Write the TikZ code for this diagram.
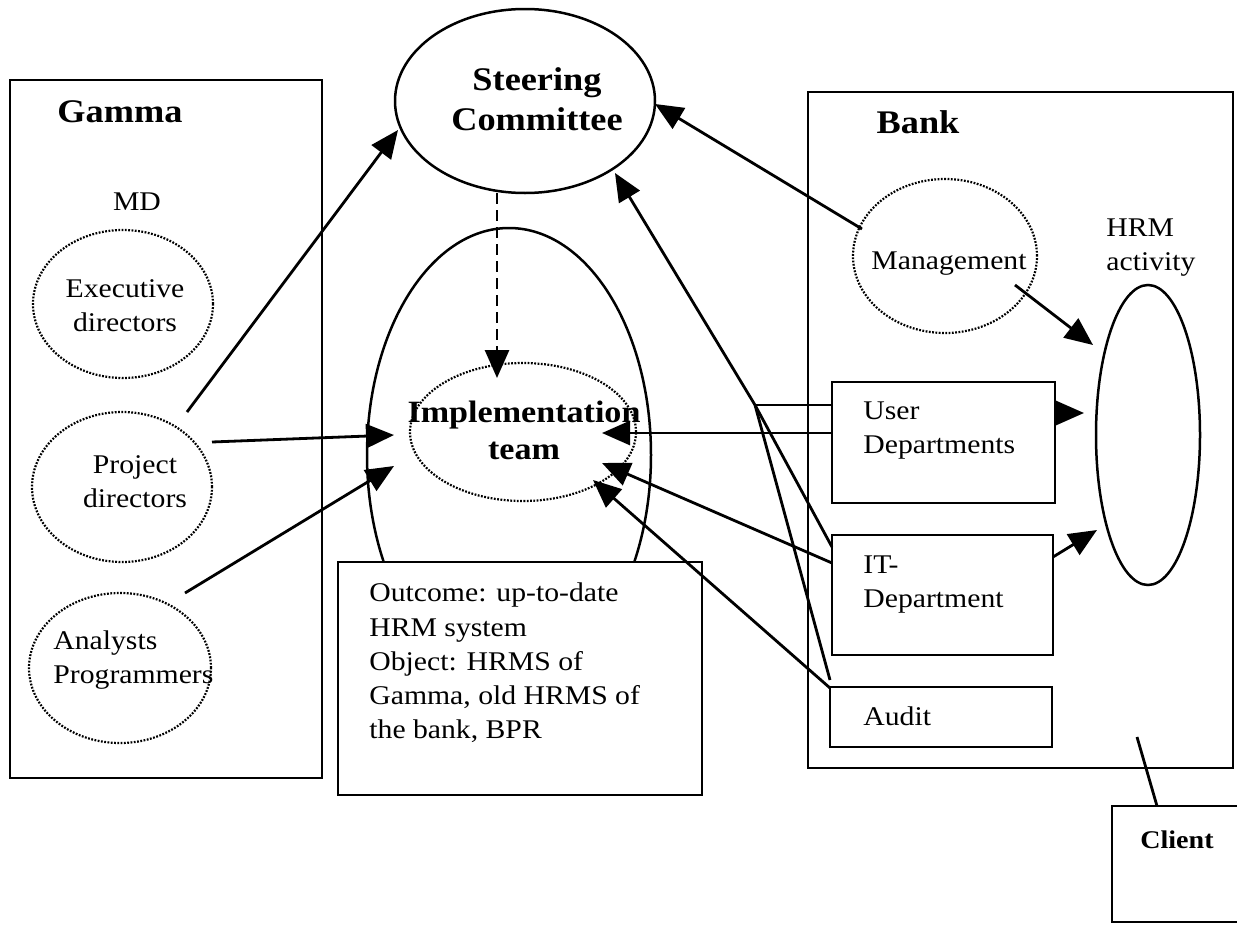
\documentclass[tikz,border=0pt]{standalone}
\usepackage{fontspec}
\setmainfont{Liberation Serif}[FakeStretch=1.1]
\usetikzlibrary{arrows.meta,shapes.geometric}

\begin{document}
\begin{tikzpicture}[x=1pt,y=-1pt,
  line width=2.8pt,
  every node/.style={inner sep=0pt,font=\fontsize{27}{34}\selectfont},
  frame/.style={draw,line width=2.8pt,fill=white},
  solidell/.style={draw,ellipse,inner sep=0pt,line width=2.5pt},
  dotell/.style={draw,ellipse,inner sep=0pt,line width=2.2pt,dash pattern=on 1.8pt off 1.5pt},
  arr/.style={-{Triangle[length=28pt,width=24pt]}},
  txt/.style={align=center},
  ltxt/.style={align=left,anchor=west},
  head/.style={font=\fontsize{33}{40}\selectfont\bfseries},
]
\useasboundingbox (0,0) rectangle (1237,926);

% ---- containers ----
\draw[frame] (10,80) rectangle (322,778);
\node[head] (gamma) at (120,112) {Gamma};
\draw[frame] (808,92) rectangle (1233,768);
\node[head] (bank) at (918,122) {Bank};

% ---- Gamma side ----
\node (md) at (137,202) {MD};
\node[dotell,minimum width=180pt,minimum height=148pt] (exec) at (123,304) {};
\node[txt] at (125,306) {Executive\\directors};
\node[dotell,minimum width=180pt,minimum height=150pt] (proj) at (122,487) {};
\node[txt] at (135,482) {Project\\directors};
\node[dotell,minimum width=182pt,minimum height=150pt] (anal) at (120,668) {};
\node[ltxt] at (52,660) {Analysts\\Programmers};

% ---- centre ----
\node[solidell,minimum width=260pt,minimum height=184pt] (steer) at (525,101) {};
\node[txt,head] at (537,99) {Steering\\Committee};
\node[solidell,minimum width=284pt,minimum height=454pt] (team) at (509,455) {};
\node[dotell,minimum width=226pt,minimum height=138pt] (impl) at (523,432) {};
\node[txt,font=\fontsize{31}{37}\selectfont\bfseries] at (524,430) {Implementation\\team};

\draw[frame] (338,562) rectangle (702,795);
\node[ltxt,font=\fontsize{27}{34.3}\selectfont] (outcome) at (368,663)
  {Outcome: up-to-date\\HRM system\\Object: HRMS of\\Gamma, old HRMS of\\the bank, BPR};

% ---- Bank side ----
\node[dotell,minimum width=184pt,minimum height=154pt] (mgmt) at (945,256) {};
\node at (949,264) {Management};
\node[ltxt] at (1105,248) {HRM\\activity};
\node[solidell,minimum width=104pt,minimum height=300pt] (hrm) at (1148,435) {};

\node[frame,minimum width=223pt,minimum height=121pt] (ud) at (943.5,442.5) {};
\node[ltxt] at (862,431) {User\\Departments};
\node[frame,minimum width=221pt,minimum height=120pt] (it) at (942.5,595) {};
\node[ltxt] at (862,585) {IT-\\Department};
\node[frame,minimum width=222pt,minimum height=60pt] (audit) at (941,717) {};
\node[ltxt] at (862,716) {Audit};

\node[frame,minimum width=140pt,minimum height=116pt] (client) at (1182,864) {};
\node[font=\fontsize{25.5}{30}\selectfont\bfseries] at (1177,840) {Client};

% ---- connector end points ----
\coordinate (pdA) at (187,412);
\coordinate (pdB) at (212,442);
\coordinate (apA) at (185,593);
\coordinate (scL) at (398,130);
\coordinate (scR) at (655,104);
\coordinate (scB) at (615,173);
\coordinate (scD) at (497,193);
\coordinate (itD) at (497,378);
\coordinate (itL1) at (394,435);
\coordinate (itL2) at (394,466);
\coordinate (itR1) at (602,433);
\coordinate (itR2) at (602,463);
\coordinate (itR3) at (593,480);
\coordinate (mgA) at (862,229);
\coordinate (mgB) at (1015,285);
\coordinate (hrA) at (1093,345);
\coordinate (hrB) at (1084,413);
\coordinate (hrC) at (1097,530);
\coordinate (join) at (755,405);
\coordinate (udA) at (832,405);
\coordinate (udB) at (832,433);
\coordinate (udC) at (1055,413);
\coordinate (itA) at (832,547);
\coordinate (itB) at (832,563);
\coordinate (itC) at (1053,557);
\coordinate (auA) at (830,680);
\coordinate (auB) at (830,688);
\coordinate (bkA) at (1137,737);
\coordinate (clA) at (1157,806);

% ---- connectors ----
\draw[arr] (pdA) -- (scL);
\draw[arr] (pdB) -- (itL1);
\draw[arr] (apA) -- (itL2);
\draw[arr,dash pattern=on 11pt off 6pt] (scD) -- (itD);
\draw[arr] (mgA) -- (scR);
\draw[arr] (join) -- (scB);
\draw (udA) -- (join);
\draw (itA) -- (join);
\draw (auA) -- (join);
\draw[arr] (udB) -- (itR1);
\draw[arr] (itB) -- (itR2);
\draw[arr] (auB) -- (itR3);
\draw[arr] (mgB) -- (hrA);
\draw[arr] (udC) -- (hrB);
\draw[arr] (itC) -- (hrC);
\draw (bkA) -- (clA);
\end{tikzpicture}
\end{document}
